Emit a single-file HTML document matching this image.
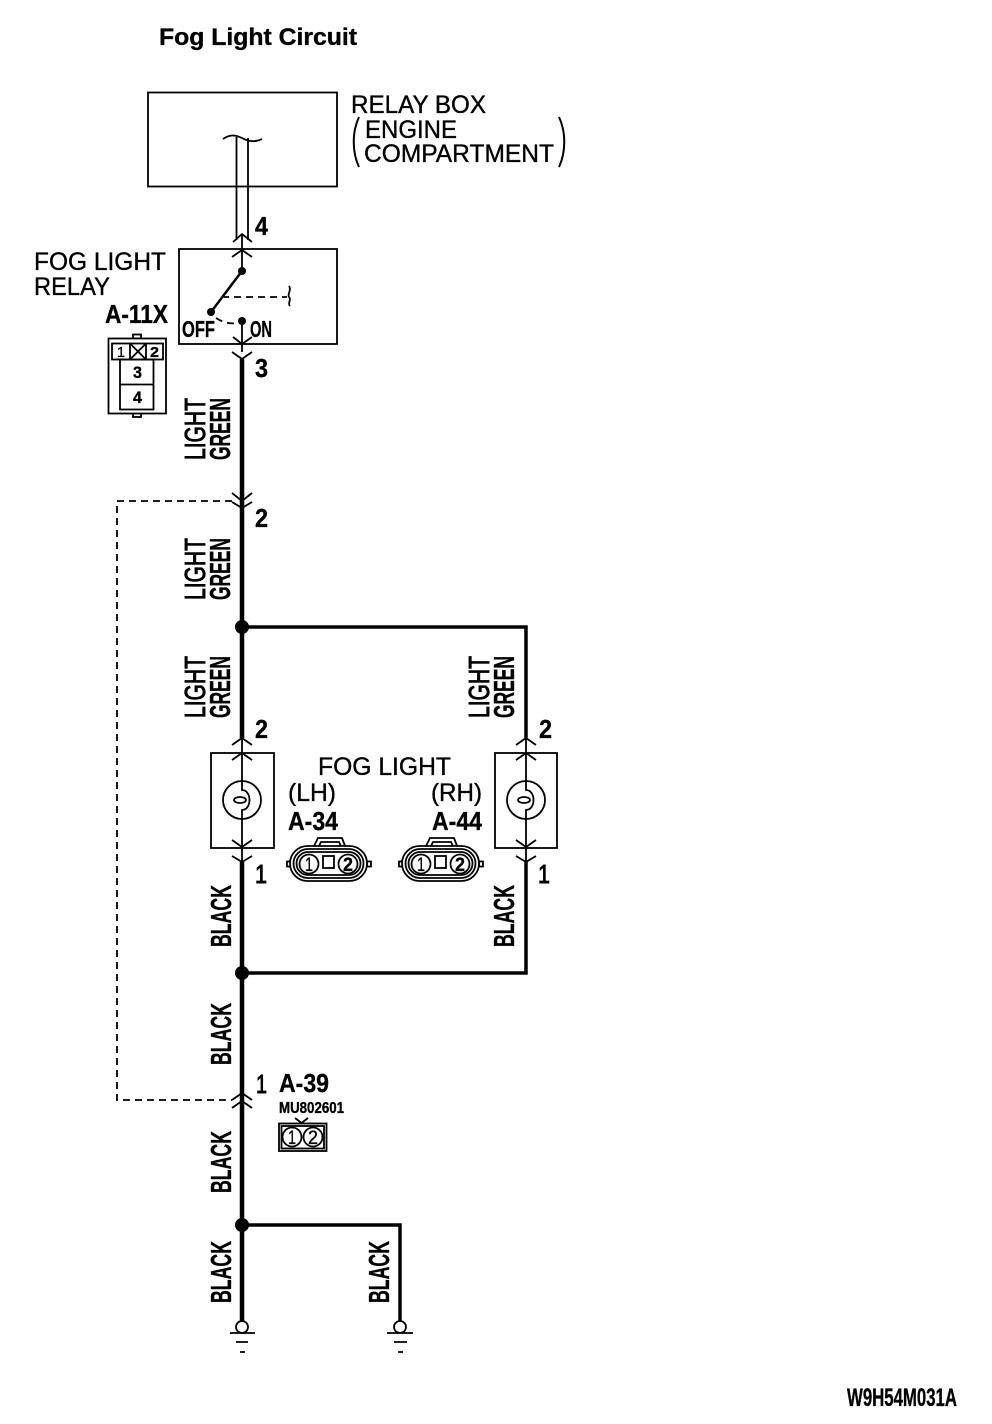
<!DOCTYPE html>
<html><head><meta charset="utf-8"><style>
html,body{margin:0;padding:0;background:#fff}
svg{display:block}
text{font-family:"Liberation Sans",sans-serif;fill:#000;stroke:#000;stroke-width:.35}
.b{font-weight:bold}
.r{stroke-width:.9}
.t{stroke:#000;stroke-width:1.8;fill:none}
.w{stroke:#000;stroke-width:4.500;fill:none}
.w3{stroke:#000;stroke-width:3.500;fill:none}
.d{stroke:#000;stroke-width:1.800;fill:none;stroke-dasharray:7 5}
.f{stroke:#000;stroke-width:1.800;fill:#fff}
</style></head><body>
<svg width="992" height="1424" viewBox="0 0 992 1424" xmlns="http://www.w3.org/2000/svg">
<rect width="992" height="1424" fill="#fff"/>

<text class="b" x="159" y="45" font-size="24" textLength="198" lengthAdjust="spacingAndGlyphs">Fog Light Circuit</text>

<!-- relay box -->
<rect class="t" x="148" y="92.500" width="189" height="94"/>
<path class="t" d="M223 139 C230 134 236 135 242 138 C249 142 256 142 262 139"/>
<path class="t" d="M236.500 137V240M248 138V240"/>
<text x="351" y="113" font-size="25" textLength="135" lengthAdjust="spacingAndGlyphs">RELAY BOX</text>
<text x="365" y="138" font-size="25" textLength="92" lengthAdjust="spacingAndGlyphs">ENGINE</text>
<text x="364" y="162" font-size="25" textLength="190" lengthAdjust="spacingAndGlyphs">COMPARTMENT</text>
<path d="M359 117 C352 132 352 152 359 167" stroke="#000" stroke-width="2" fill="none"/>
<path d="M559 117 C566 132 566 152 559 167" stroke="#000" stroke-width="2" fill="none"/>

<path class="t" d="M233 242L242 234L252 242M232 257L242 250L252 257"/>
<text class="b" x="255" y="235" font-size="26" textLength="13" lengthAdjust="spacingAndGlyphs">4</text>

<!-- relay -->
<rect class="t" x="179" y="249" width="158" height="95"/>
<path class="t" d="M242 234V271M242 321V352"/>
<circle cx="242" cy="271" r="4"/>
<circle cx="211" cy="312" r="4"/>
<circle cx="242" cy="321" r="4"/>
<path d="M242 271L211 312" stroke="#000" stroke-width="2.500"/>
<path class="d" d="M222 297H287" stroke-dasharray="6 4"/>
<path class="t" d="M289 286C292 290 287 294 289 297C292 300 287 303 290 306"/>
<path class="d" d="M216 318C224 323 230 324 238 323" stroke-dasharray="5 3"/>
<path class="t" d="M233 337L242 344L252 337M232 352L242 359L252 352"/>
<text class="b" x="182" y="337" font-size="23" textLength="33" lengthAdjust="spacingAndGlyphs">OFF</text>
<text class="b" x="250" y="337" font-size="23" textLength="22" lengthAdjust="spacingAndGlyphs">ON</text>
<text x="34" y="270" font-size="25" textLength="132" lengthAdjust="spacingAndGlyphs">FOG LIGHT</text>
<text x="34" y="295" font-size="25" textLength="76" lengthAdjust="spacingAndGlyphs">RELAY</text>
<text class="b" x="105" y="323" font-size="26" textLength="63" lengthAdjust="spacingAndGlyphs">A-11X</text>
<text class="b" x="255" y="377" font-size="26" textLength="13" lengthAdjust="spacingAndGlyphs">3</text>

<!-- A-11X connector -->
<rect class="t" x="133" y="334.500" width="8" height="4"/>
<rect class="t" x="133" y="413" width="8" height="4"/>
<rect class="f" x="108.500" y="338.500" width="57.500" height="75"/>
<rect class="t" x="112" y="343.500" width="51" height="16"/>
<path class="t" d="M130 343.500V359.500M146 343.500V359.500M130 343.500L146 359.500M146 343.500L130 359.500"/>
<rect class="t" x="120" y="359.500" width="33.500" height="50"/>
<path class="t" d="M120 384.500H153.500"/>
<text x="117" y="357" font-size="15" textLength="8" lengthAdjust="spacingAndGlyphs">1</text>
<text class="b" x="150" y="357" font-size="15" textLength="9" lengthAdjust="spacingAndGlyphs">2</text>
<text class="b" x="133" y="378" font-size="17" textLength="9" lengthAdjust="spacingAndGlyphs">3</text>
<text class="b" x="133" y="403" font-size="17" textLength="9" lengthAdjust="spacingAndGlyphs">4</text>

<!-- main wire -->
<path class="w" d="M242 359V738M242 862V1321"/>
<path class="w3" d="M242 627H526V738"/>
<path class="w3" d="M526 862V973H242"/>
<path class="w3" d="M242 1225H400V1321"/>
<circle cx="242" cy="627" r="7"/>
<circle cx="242" cy="973" r="7"/>
<circle cx="242" cy="1225" r="7"/>

<!-- dashed -->
<path class="d" d="M232 501H117V1100H232"/>
<path class="t" d="M232 493L242 501L252 493M232 502L242 508L252 502"/>
<path class="t" d="M232 1100L242 1093L252 1100M232 1108L242 1101L252 1108"/>
<text class="b" x="255" y="527" font-size="26" textLength="13" lengthAdjust="spacingAndGlyphs">2</text>

<!-- rotated labels -->
<g font-size="29">
<text class="r" transform="translate(205,460) rotate(-90)" textLength="62" lengthAdjust="spacingAndGlyphs">LIGHT</text>
<text class="b" transform="translate(230,460) rotate(-90)" textLength="62" lengthAdjust="spacingAndGlyphs">GREEN</text>
<text class="r" transform="translate(205,600) rotate(-90)" textLength="62" lengthAdjust="spacingAndGlyphs">LIGHT</text>
<text class="b" transform="translate(230,600) rotate(-90)" textLength="62" lengthAdjust="spacingAndGlyphs">GREEN</text>
<text class="r" transform="translate(205,718) rotate(-90)" textLength="62" lengthAdjust="spacingAndGlyphs">LIGHT</text>
<text class="b" transform="translate(230,718) rotate(-90)" textLength="62" lengthAdjust="spacingAndGlyphs">GREEN</text>
<text class="r" transform="translate(489,718) rotate(-90)" textLength="62" lengthAdjust="spacingAndGlyphs">LIGHT</text>
<text class="b" transform="translate(514,718) rotate(-90)" textLength="62" lengthAdjust="spacingAndGlyphs">GREEN</text>
<text class="b" transform="translate(231,947) rotate(-90)" textLength="62" lengthAdjust="spacingAndGlyphs">BLACK</text>
<text class="b" transform="translate(514,947) rotate(-90)" textLength="62" lengthAdjust="spacingAndGlyphs">BLACK</text>
<text class="b" transform="translate(231,1065) rotate(-90)" textLength="62" lengthAdjust="spacingAndGlyphs">BLACK</text>
<text class="b" transform="translate(231,1193) rotate(-90)" textLength="62" lengthAdjust="spacingAndGlyphs">BLACK</text>
<text class="b" transform="translate(231,1303) rotate(-90)" textLength="62" lengthAdjust="spacingAndGlyphs">BLACK</text>
<text class="b" transform="translate(389,1303) rotate(-90)" textLength="62" lengthAdjust="spacingAndGlyphs">BLACK</text>
</g>

<!-- fog light LH -->
<rect class="t" x="211" y="753" width="63" height="95"/>
<circle class="t" cx="242" cy="800" r="19"/>
<ellipse class="t" cx="240" cy="800" rx="6" ry="3"/>
<path class="t" d="M242 738V790C252 790 252 810 242 810V862"/>
<path class="t" d="M232 745L242 738L252 745M232 760L242 753L252 760M232 840L242 847L252 840M232 856L242 862L252 856"/>
<!-- fog light RH -->
<rect class="t" x="495" y="753" width="62" height="95"/>
<circle class="t" cx="526" cy="800" r="19"/>
<ellipse class="t" cx="524" cy="800" rx="6" ry="3"/>
<path class="t" d="M526 738V790C536 790 536 810 526 810V862"/>
<path class="t" d="M516 745L526 738L536 745M516 760L526 753L536 760M516 840L526 847L536 840M516 856L526 862L536 856"/>

<text class="b" x="255" y="738" font-size="26" textLength="13" lengthAdjust="spacingAndGlyphs">2</text>
<text class="b" x="539" y="738" font-size="26" textLength="13" lengthAdjust="spacingAndGlyphs">2</text>
<text class="r" x="255" y="883" font-size="26" textLength="12" lengthAdjust="spacingAndGlyphs">1</text>
<text class="r" x="538" y="883" font-size="26" textLength="12" lengthAdjust="spacingAndGlyphs">1</text>

<text x="318" y="775" font-size="25" textLength="133" lengthAdjust="spacingAndGlyphs">FOG LIGHT</text>
<text x="288" y="801" font-size="25" textLength="48" lengthAdjust="spacingAndGlyphs">(LH)</text>
<text x="431" y="801" font-size="25" textLength="51" lengthAdjust="spacingAndGlyphs">(RH)</text>
<text class="b" x="288" y="830" font-size="26" textLength="50" lengthAdjust="spacingAndGlyphs">A-34</text>
<text class="b" x="432" y="830" font-size="26" textLength="50" lengthAdjust="spacingAndGlyphs">A-44</text>

<!-- connector A-34 -->
<g>
<path class="t" d="M314 846L318 838H342L345 846M319 846L321 842H339L341 846"/>
<rect class="t" x="287" y="861.500" width="4" height="5"/>
<rect class="t" x="367" y="861.500" width="4" height="5"/>
<rect class="f" x="290" y="846" width="77" height="35" rx="17.500"/>
<rect class="t" x="293.500" y="849" width="70" height="29" rx="14.500"/>
<rect class="t" x="296.500" y="852" width="64" height="23" rx="11.500"/>
<circle class="f" cx="309" cy="864" r="9.500"/>
<circle class="f" cx="348" cy="864" r="9.500"/>
<rect class="t" x="323" y="856" width="11" height="12"/>
<text x="305" y="871" font-size="19" textLength="8" lengthAdjust="spacingAndGlyphs">1</text>
<text class="b" x="343" y="871" font-size="19" textLength="10" lengthAdjust="spacingAndGlyphs">2</text>
</g>
<!-- connector A-44 -->
<g transform="translate(112,0)">
<path class="t" d="M314 846L318 838H342L345 846M319 846L321 842H339L341 846"/>
<rect class="t" x="287" y="861.500" width="4" height="5"/>
<rect class="t" x="367" y="861.500" width="4" height="5"/>
<rect class="f" x="290" y="846" width="77" height="35" rx="17.500"/>
<rect class="t" x="293.500" y="849" width="70" height="29" rx="14.500"/>
<rect class="t" x="296.500" y="852" width="64" height="23" rx="11.500"/>
<circle class="f" cx="309" cy="864" r="9.500"/>
<circle class="f" cx="348" cy="864" r="9.500"/>
<rect class="t" x="323" y="856" width="11" height="12"/>
<text x="305" y="871" font-size="19" textLength="8" lengthAdjust="spacingAndGlyphs">1</text>
<text class="b" x="343" y="871" font-size="19" textLength="10" lengthAdjust="spacingAndGlyphs">2</text>
</g>

<!-- A-39 -->
<text class="r" x="256" y="1093" font-size="26" textLength="11" lengthAdjust="spacingAndGlyphs">1</text>
<text class="b" x="279" y="1092" font-size="26" textLength="50" lengthAdjust="spacingAndGlyphs">A-39</text>
<text class="b" x="279" y="1113" font-size="16" textLength="65" lengthAdjust="spacingAndGlyphs">MU802601</text>
<path class="t" d="M295 1118L301.500 1123L308 1118"/>
<rect class="t" x="279" y="1123.500" width="47.500" height="27.500"/>
<rect class="t" x="281.500" y="1126" width="42.500" height="22.500"/>
<circle class="f" cx="292" cy="1137" r="9.500"/>
<circle class="f" cx="313" cy="1137" r="9.500"/>
<text x="288" y="1144" font-size="19" textLength="8" lengthAdjust="spacingAndGlyphs">1</text>
<text x="308" y="1144" font-size="19" textLength="10" lengthAdjust="spacingAndGlyphs">2</text>

<!-- grounds -->
<circle class="f" cx="242" cy="1327" r="6"/>
<path class="t" d="M230 1333H255M236 1342H248M240 1352H245"/>
<circle class="f" cx="400" cy="1327" r="6"/>
<path class="t" d="M387 1333H413M394 1342H407M398 1352H403"/>

<text class="b" x="847" y="1406" font-size="25" textLength="110" lengthAdjust="spacingAndGlyphs">W9H54M031A</text>
</svg>
</body></html>
